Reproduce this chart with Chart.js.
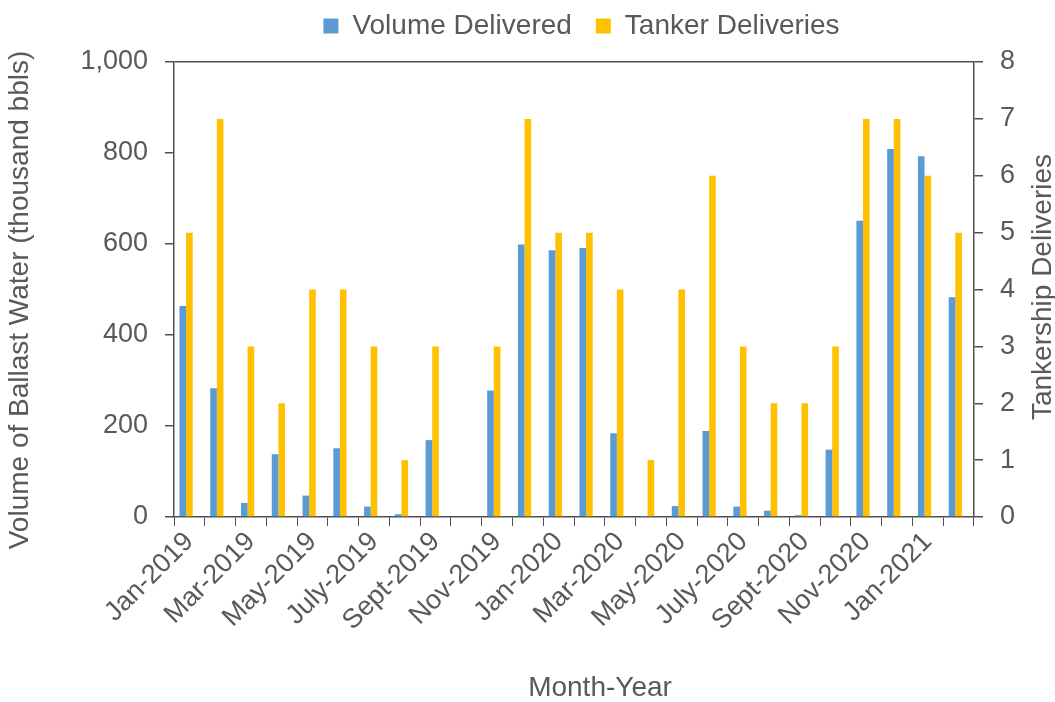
<!DOCTYPE html>
<html>
<head>
<meta charset="utf-8">
<script src="https://cdn.jsdelivr.net/npm/chart.js@4"></script>
<style>
  html, body { margin: 0; padding: 0; background: #fff; }
  #wrap { width: 1055px; height: 702px; }
</style>
</head>
<body>
<div id="wrap"><canvas id="ballastChart"></canvas></div>
<script>
// months, Jan-2019 .. Feb-2021
const months = [
  'Jan-2019', 'Feb-2019', 'Mar-2019', 'Apr-2019', 'May-2019', 'June-2019',
  'July-2019', 'Aug-2019', 'Sept-2019', 'Oct-2019', 'Nov-2019', 'Dec-2019',
  'Jan-2020', 'Feb-2020', 'Mar-2020', 'Apr-2020', 'May-2020', 'June-2020',
  'July-2020', 'Aug-2020', 'Sept-2020', 'Oct-2020', 'Nov-2020', 'Dec-2020',
  'Jan-2021', 'Feb-2021'
];
// thousand bbls
const volumeDelivered = [
  464, 283, 31, 138, 47, 151, 23, 6, 169, 0, 278, 599,
  586, 591, 184, 1, 24, 189, 23, 14, 4, 148, 651, 809,
  793, 483
];
const tankerDeliveries = [
  5, 7, 3, 2, 4, 4, 3, 1, 3, 0, 3, 7,
  5, 5, 4, 1, 4, 6, 3, 2, 2, 3, 7, 7,
  6, 5
];
// empty third slot, the original groups sit left of the month centre
const spacerSeries = [];
const volumeTicks = [0, 200, 400, 600, 800, 1000];
const tankerTicks = [0, 1, 2, 3, 4, 5, 6, 7, 8];

const textColor = '#595959';
const axisColor = '#505050';
const fontFamily = '"Liberation Sans", Arial, sans-serif';
const titleFont = '28px "Liberation Sans", Arial, sans-serif';

// legend placed over the plot, a bit higher than chart.js puts it
const legendShift = {
  id: 'legendShift',
  afterLayout(chart) {
    chart.legend.left = 108;
    chart.legend.top = -12;
  }
};

// axis titles drawn by hand (right one reads bottom-to-top like the original)
const axisTitles = {
  id: 'axisTitles',
  afterDraw(chart) {
    const c = chart.ctx;
    c.save();
    c.fillStyle = textColor;
    c.font = titleFont;
    c.textAlign = 'center';
    c.textBaseline = 'middle';
    c.fillText('Month-Year', 600, 688);

    c.save();
    c.translate(20, 300);
    c.rotate(-Math.PI / 2);
    c.fillText('Volume of Ballast Water (thousand bbls)', 0, 0);
    c.restore();

    c.save();
    c.translate(1043, 287);
    c.rotate(-Math.PI / 2);
    c.fillText('Tankership Deliveries', 0, 0);
    c.restore();
    c.restore();
  }
};

const ctx = document.getElementById('ballastChart').getContext('2d');
new Chart(ctx, {
  type: 'bar',
  data: {
    labels: months,
    datasets: [
      {
        label: 'Volume Delivered',
        data: volumeDelivered,
        backgroundColor: '#5B9BD5',
        yAxisID: 'y',
        categoryPercentage: 0.645,
        barPercentage: 1
      },
      {
        label: 'Tanker Deliveries',
        data: tankerDeliveries,
        backgroundColor: '#FFC000',
        yAxisID: 'y1',
        categoryPercentage: 0.645,
        barPercentage: 1
      },
      {
        label: '',
        data: spacerSeries,
        backgroundColor: 'rgba(0,0,0,0)',
        yAxisID: 'y1',
        categoryPercentage: 0.645,
        barPercentage: 1
      }
    ]
  },
  options: {
    responsive: true,
    maintainAspectRatio: false,
    animation: false,
    layout: { padding: 0 },
    plugins: {
      legend: {
        position: 'top',
        labels: {
          color: textColor,
          font: { family: fontFamily, size: 28 },
          boxWidth: 15,
          boxHeight: 15,
          padding: 24,
          filter: item => item.text !== ''
        }
      },
      tooltip: { enabled: false }
    },
    scales: {
      x: {
        grid: {
          offset: true,
          drawOnChartArea: false,
          tickLength: 9,
          tickColor: axisColor
        },
        border: { color: axisColor, width: 1.5 },
        ticks: {
          autoSkip: false,
          minRotation: 45,
          maxRotation: 45,
          padding: 0,
          color: textColor,
          font: { family: fontFamily, size: 27 },
          callback: function(value, index) {
            return index % 2 === 0 ? this.getLabelForValue(value) : '';
          }
        },
        afterFit(scale) { scale.height = 185; }
      },
      y: {
        position: 'left',
        min: 0,
        max: 1000,
        afterBuildTicks(scale) {
          scale.ticks = volumeTicks.map(v => ({ value: v }));
        },
        grid: {
          color: c => (c.tick && c.tick.value === 1000 ? axisColor : 'rgba(0,0,0,0)'),
          tickColor: axisColor,
          tickLength: 9,
          lineWidth: 1.5
        },
        border: { color: axisColor, width: 1.5 },
        ticks: {
          padding: 17,
          color: textColor,
          font: { family: fontFamily, size: 27 },
          callback: v => v.toLocaleString('en-US')
        },
        afterFit(scale) { scale.width = 174; }
      },
      y1: {
        position: 'right',
        min: 0,
        max: 8,
        afterBuildTicks(scale) {
          scale.ticks = tankerTicks.map(v => ({ value: v }));
        },
        grid: {
          drawOnChartArea: false,
          tickColor: axisColor,
          tickLength: 9,
          lineWidth: 1.5
        },
        border: { color: axisColor, width: 1.5 },
        ticks: {
          padding: 17,
          color: textColor,
          font: { family: fontFamily, size: 27 }
        },
        afterFit(scale) { scale.width = 81; }
      }
    }
  },
  plugins: [legendShift, axisTitles]
});
</script>
</body>
</html>
